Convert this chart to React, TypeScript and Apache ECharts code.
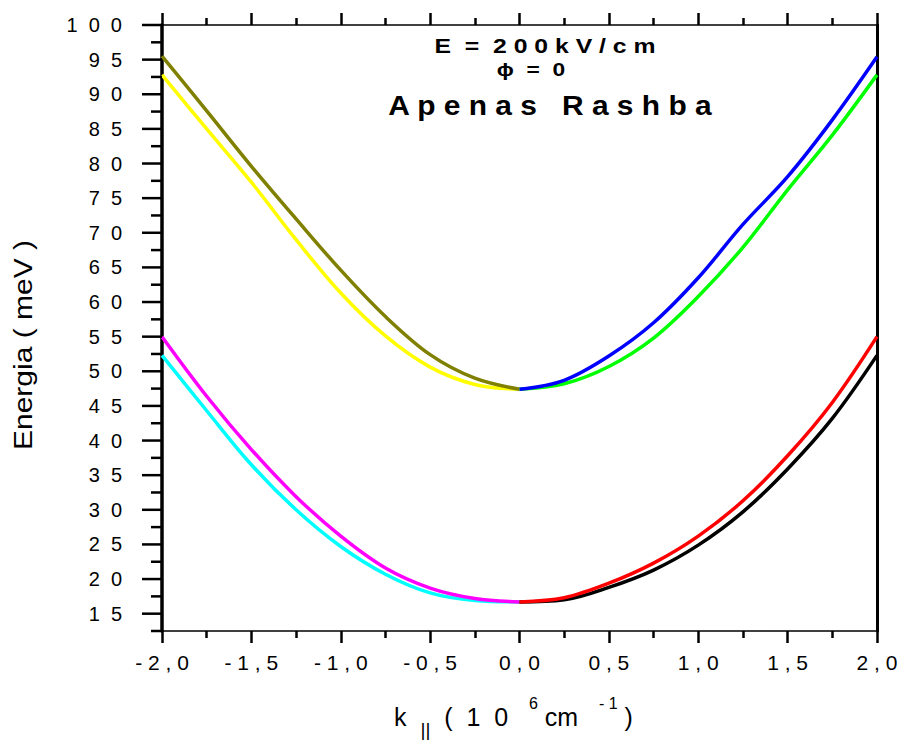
import React, { useEffect, useRef } from 'react';
import * as echarts from 'echarts';

const FONT = '"Liberation Sans", Arial, sans-serif';

// wave-vector samples (10^6 cm^-1)
const kLeft = [-2, -1.75, -1.5, -1.25, -1, -0.75, -0.5, -0.25, 0];
const kRight = [0, 0.25, 0.5, 0.75, 1, 1.25, 1.5, 1.75, 2];

// upper subband (meV)
const oliveLeft = [95.5, 87.6, 79.6, 72.0, 64.6, 57.9, 52.4, 49.0, 47.4];
const yellowLeft = [92.8, 85.0, 77.3, 69.0, 61.3, 55.1, 50.6, 48.1, 47.4];
const blueRight = [47.4, 48.7, 52.2, 57.0, 63.5, 71.2, 78.1, 86.3, 95.4];
const greenRight = [47.4, 48.2, 50.7, 54.8, 60.8, 67.9, 76.2, 84.1, 92.8];

// lower subband (meV)
const magentaLeft = [55.0, 46.4, 38.7, 31.9, 26.2, 21.6, 18.7, 17.2, 16.7];
const cyanLeft = [52.3, 44.3, 36.5, 30.0, 24.7, 20.7, 18.0, 16.9, 16.7];
const redRight = [16.7, 17.3, 19.4, 22.3, 26.2, 31.3, 37.8, 45.5, 55.0];
const blackRight = [16.7, 17.0, 18.8, 21.3, 24.9, 29.7, 35.9, 43.2, 52.3];

// axis ticks
const yMajorTicks = [15, 20, 25, 30, 35, 40, 45, 50, 55, 60, 65, 70, 75, 80, 85, 90, 95, 100];
const yMinorTicks = [12.5, 17.5, 22.5, 27.5, 32.5, 37.5, 42.5, 47.5, 52.5, 57.5, 62.5, 67.5, 72.5, 77.5, 82.5, 87.5, 92.5, 97.5];

const spaced = (s: string, sep: string) => s.split('').join(sep);

export default function App() {
  const ref = useRef<HTMLDivElement>(null);
  useEffect(() => {
    const chart = echarts.init(ref.current as HTMLDivElement, null, { renderer: 'svg' });
    const mk = (name: string, ks: number[], vals: number[], color: string) => ({
      name,
      type: 'line',
      data: ks.map((k, i) => [k, vals[i]]),
      showSymbol: false,
      smooth: 0.35,
      lineStyle: { width: 3.5, color },
      itemStyle: { color },
      xAxisIndex: 0,
      yAxisIndex: 0,
    });
    // tick marks of the energy axis, positioned by the axis scale
    const tickSeries = (name: string, values: number[], len: number) => ({
      name,
      type: 'scatter',
      silent: true,
      clip: false,
      z: 6,
      data: values.map((v) => [-2, v]),
      symbol: 'rect',
      symbolSize: [len, 2.5],
      symbolOffset: [-len / 2, 0],
      itemStyle: { color: '#000', opacity: 1 },
      xAxisIndex: 0,
      yAxisIndex: 0,
    });
    const tickStyle = { color: '#000', width: 2.5 };
    const xCommon = {
      type: 'value',
      min: -2,
      max: 2,
      interval: 0.5,
      axisLine: { show: true, onZero: false, lineStyle: { color: '#000', width: 1.5 } },
      axisTick: { show: true, inside: false, length: 12, lineStyle: tickStyle },
      minorTick: { show: true, splitNumber: 2, length: 7, lineStyle: tickStyle },
      splitLine: { show: false },
      minorSplitLine: { show: false },
    };
    const centered = {
      fill: '#000',
      align: 'center',
      verticalAlign: 'middle',
      textAlign: 'center',
      textVerticalAlign: 'middle',
    };
    chart.setOption({
      animation: false,
      backgroundColor: '#fff',
      textStyle: { fontFamily: FONT },
      grid: { left: 162, right: 24, top: 25, bottom: 111, containLabel: false },
      xAxis: [
        {
          ...xCommon,
          position: 'bottom',
          axisLabel: {
            formatter: (v: number) => spaced(v.toFixed(1).replace('.', ','), ' '),
            fontSize: 21,
            color: '#000',
            margin: 21,
            fontFamily: FONT,
          },
        },
        {
          ...xCommon,
          position: 'top',
          axisLabel: { show: false },
        },
      ],
      yAxis: [
        {
          type: 'value',
          position: 'left',
          min: 12.5,
          max: 100,
          axisLine: { show: true, onZero: false, lineStyle: { color: '#000', width: 3.5 } },
          axisTick: { show: false },
          axisLabel: {
            customValues: yMajorTicks,
            formatter: (v: number) => spaced(String(v), '  '),
            fontSize: 20,
            color: '#000',
            margin: 40,
            fontFamily: FONT,
          },
          splitLine: { show: false },
        },
        {
          type: 'value',
          position: 'right',
          min: 12.5,
          max: 100,
          axisLine: { show: true, onZero: false, lineStyle: { color: '#000', width: 3 } },
          axisTick: { show: false },
          axisLabel: { show: false },
          splitLine: { show: false },
        },
      ],
      series: [
        mk('yellow', kLeft, yellowLeft, '#FFFF00'),
        mk('olive', kLeft, oliveLeft, '#808000'),
        mk('green', kRight, greenRight, '#00FF00'),
        mk('blue', kRight, blueRight, '#0000FF'),
        mk('cyan', kLeft, cyanLeft, '#00FFFF'),
        mk('magenta', kLeft, magentaLeft, '#FF00FF'),
        mk('black', kRight, blackRight, '#000000'),
        mk('red', kRight, redRight, '#FF0000'),
        tickSeries('majorTicks', yMajorTicks, 20),
        tickSeries('minorTicks', yMinorTicks, 11),
      ],
      graphic: [
        {
          type: 'text',
          x: 545,
          y: 46,
          scaleX: 1.18,
          style: { ...centered, text: 'E  =  2 0 0 k V / c m', font: 'bold 21px ' + FONT },
        },
        {
          type: 'text',
          x: 531,
          y: 69,
          scaleX: 1.2,
          style: { ...centered, text: 'ϕ  =  0', font: 'bold 19px ' + FONT },
        },
        {
          type: 'text',
          x: 550,
          y: 105,
          scaleX: 1.07,
          style: { ...centered, text: 'A p e n a s   R a s h b a', font: 'bold 28px ' + FONT },
        },
        {
          type: 'text',
          x: 23,
          y: 345,
          rotation: Math.PI / 2,
          scaleX: 1.2,
          style: { ...centered, text: 'Energia ( meV )', font: '25px ' + FONT },
        },
        {
          type: 'text',
          x: 513.5,
          y: 717,
          style: {
            ...centered,
            text: '{m|k  }{s|||}{m|  (  1  0   }{p|6}{m| cm   }{p|- 1}{m| )}',
            rich: {
              m: { fontSize: 25, fontFamily: FONT, lineHeight: 44, verticalAlign: 'middle', fill: '#000' },
              s: { fontSize: 19, fontFamily: FONT, lineHeight: 23, verticalAlign: 'bottom', fill: '#000' },
              p: { fontSize: 16, fontFamily: FONT, lineHeight: 19, verticalAlign: 'top', fill: '#000' },
            },
          },
        },
      ],
    });
    return () => chart.dispose();
  }, []);
  return <div ref={ref} style={{ position: 'fixed', left: 0, top: 0, width: 901, height: 742, background: '#fff' }} />;
}
